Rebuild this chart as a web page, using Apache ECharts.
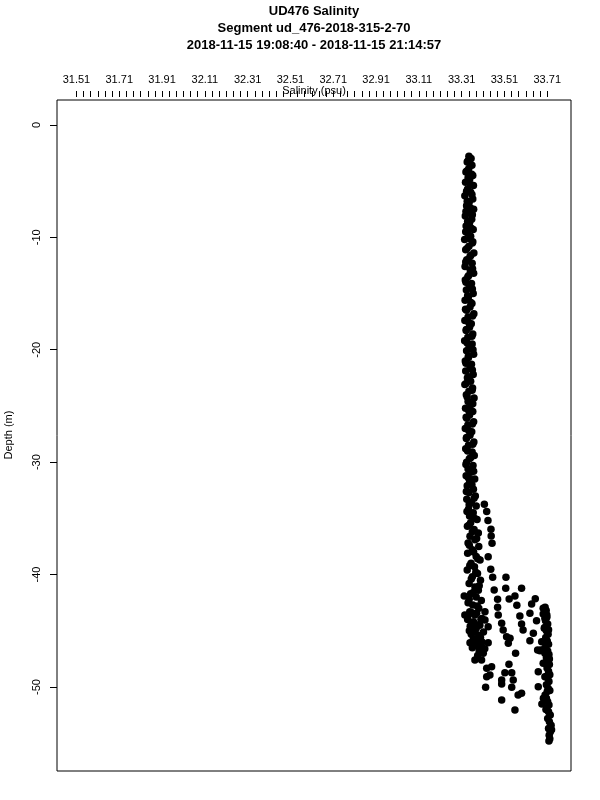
<!DOCTYPE html>
<html><head><meta charset="utf-8">
<script src="https://cdn.jsdelivr.net/npm/echarts@6/dist/echarts.min.js"></script>
<style>html,body{margin:0;padding:0;background:#fff}#c{width:600px;height:800px}</style>
</head><body><div id="c"></div><script>
const titleLines = ["UD476 Salinity", "Segment ud_476-2018-315-2-70", "2018-11-15 19:08:40 - 2018-11-15 21:14:57"];
const xAxisName = "Salinity (psu)";
const yAxisName = "Depth (m)";
const salinityTickLabels = [31.51, 31.71, 31.91, 32.11, 32.31, 32.51, 32.71, 32.91, 33.11, 33.31, 33.51, 33.71];
const depthTickLabels = [0, -10, -20, -30, -40, -50];

// main near-surface column, descending pass: [salinity, depth]
const upperColumn = [
[33.344,-2.8],[33.354,-3.0],[33.336,-3.3],[33.358,-3.6],[33.343,-3.9],[33.330,-4.2],[33.362,-4.5],[33.348,-4.8],
[33.328,-5.1],[33.365,-5.4],[33.338,-5.7],[33.352,-6.0],[33.325,-6.3],[33.362,-6.6],[33.345,-6.9],[33.333,-7.2],
[33.366,-7.5],[33.340,-7.8],[33.327,-8.1],[33.357,-8.4],[33.347,-8.7],[33.331,-9.0],[33.364,-9.3],[33.337,-9.6],
[33.352,-9.9],[33.324,-10.2],[33.360,-10.5],[33.344,-10.8],[33.329,-11.1],[33.367,-11.4],[33.349,-11.7],[33.334,-12.0],
[33.359,-12.3],[33.326,-12.6],[33.350,-12.9],[33.366,-13.2],[33.339,-13.5],[33.327,-13.8],[33.356,-14.1],[33.346,-14.4],
[33.332,-14.7],[33.364,-15.0],[33.342,-15.3],[33.326,-15.6],[33.358,-15.9],[33.349,-16.2],[33.333,-16.5],[33.367,-16.8],
[33.340,-17.1],[33.325,-17.4],[33.355,-17.7],[33.347,-18.0],[33.331,-18.3],[33.362,-18.6],[33.339,-18.9],[33.324,-19.2],
[33.359,-19.5],[33.345,-19.8],[33.333,-20.1],[33.366,-20.4],[33.342,-20.7],[33.327,-21.0],[33.356,-21.3],[33.349,-21.6],
[33.329,-21.9],[33.364,-22.2],[33.337,-22.5],[33.352,-22.8],[33.325,-23.1],[33.361,-23.4],[33.344,-23.7],[33.332,-24.0],
[33.368,-24.3],[33.340,-24.6],[33.353,-24.9],[33.328,-25.2],[33.362,-25.5],[33.347,-25.8],[33.334,-26.1],[33.366,-26.4],
[33.339,-26.7],[33.327,-27.0],[33.357,-27.3],[33.349,-27.6],[33.332,-27.9],[33.367,-28.2],[33.342,-28.5],[33.329,-28.8],
[33.359,-29.1],[33.369,-29.4],[33.346,-29.7],[33.333,-30.0],[33.363,-30.3],[33.340,-30.6],[33.353,-30.9],[33.331,-31.2],
[33.371,-31.5],[33.347,-31.8],[33.336,-32.1],[33.365,-32.4],[33.344,-32.7],[33.374,-33.0],[33.334,-33.3],[33.355,-33.6],
[33.378,-33.9],[33.342,-34.2],[33.364,-34.5],[33.347,-34.8],[33.382,-35.1],[33.352,-35.4],[33.337,-35.7],[33.368,-36.0],
[33.388,-36.3],[33.349,-36.6],[33.372,-36.9],[33.340,-37.2],[33.390,-37.5],[33.360,-37.8],[33.338,-38.1],[33.378,-38.4],
[33.396,-38.7],[33.354,-39.0],[33.370,-39.3],[33.336,-39.6],[33.384,-39.9],[33.360,-40.2],[33.398,-40.5],[33.345,-40.8],
[33.372,-41.1],[33.388,-41.4],[33.352,-41.7],[33.322,-41.9],[33.378,-42.0],[33.402,-42.3],[33.340,-42.5],[33.362,-42.7],
[33.390,-43.0],[33.348,-43.3],[33.325,-43.6],[33.372,-43.6],[33.405,-43.9],[33.338,-44.0],[33.365,-44.2],[33.395,-44.5],
[33.350,-44.6],[33.378,-44.8],[33.412,-45.1],[33.355,-45.3],[33.390,-45.4],[33.365,-45.7],[33.405,-46.0],[33.360,-46.5],
[33.382,-46.3],[33.418,-46.6],[33.397,-46.9],[33.385,-47.2]
];

// main column, ascending pass: [salinity, depth]
const upperColumnReturn = [
[33.340,-3.2],[33.350,-3.5],[33.334,-4.1],[33.357,-4.4],[33.340,-4.7],[33.352,-5.3],[33.333,-5.9],[33.358,-6.2],
[33.336,-6.8],[33.351,-7.4],[33.330,-7.7],[33.360,-8.0],[33.338,-8.6],[33.355,-9.2],[33.329,-9.5],[33.347,-10.1],
[33.362,-10.4],[33.335,-11.0],[33.353,-11.6],[33.329,-12.2],[33.361,-12.8],[33.343,-13.4],[33.330,-14.0],[33.360,-14.6],
[33.338,-15.2],[33.353,-15.8],[33.328,-16.4],[33.361,-17.0],[33.344,-17.6],[33.332,-18.2],[33.358,-18.8],[33.336,-19.4],
[33.363,-20.0],[33.341,-20.6],[33.330,-21.2],[33.360,-21.8],[33.343,-22.4],[33.331,-23.0],[33.359,-23.6],[33.336,-24.2],
[33.362,-24.8],[33.343,-25.4],[33.331,-26.0],[33.360,-26.6],[33.344,-27.2],[33.333,-27.8],[33.362,-28.4],[33.338,-29.0],
[33.352,-29.6],[33.330,-30.2],[33.366,-30.8],[33.342,-31.4],[33.358,-32.0],[33.332,-32.6],[33.368,-33.2],[33.345,-33.8],
[33.335,-34.4],[33.370,-35.0],[33.345,-35.6],[33.360,-36.2],[33.380,-36.8],[33.346,-37.4],[33.366,-38.0],[33.385,-38.6],
[33.348,-39.2],[33.376,-39.8],[33.355,-40.4],[33.392,-41.0],[33.364,-41.6],[33.345,-42.2],[33.383,-42.8],[33.358,-43.4],
[33.400,-44.0],[33.372,-44.4],[33.346,-45.0],[33.398,-45.6],[33.375,-46.2],[33.392,-46.8]
];

// scattered points between the two water masses: [salinity, depth]
const transitionPoints = [
[33.416,-33.75],[33.427,-34.40],[33.433,-35.20],[33.447,-35.97],[33.448,-36.57],[33.452,-37.22],[33.434,-38.41],
[33.446,-39.53],[33.455,-40.24],[33.517,-40.24],[33.516,-41.22],[33.590,-41.22],[33.462,-41.37],[33.559,-41.90],
[33.532,-42.17],[33.654,-42.14],[33.478,-42.20],[33.478,-42.91],[33.568,-42.73],[33.637,-42.62],[33.691,-43.00],
[33.629,-43.44],[33.582,-43.68],[33.481,-43.59],[33.691,-43.51],[33.380,-43.44],[33.419,-43.30],[33.341,-43.59],
[33.357,-44.33],[33.419,-44.04],[33.497,-44.33],[33.590,-44.40],[33.660,-44.10],[33.699,-43.89],[33.372,-45.08],
[33.434,-44.64],[33.504,-44.93],[33.597,-44.93],[33.645,-45.22],[33.696,-44.78],[33.520,-45.52],[33.536,-45.67],
[33.380,-45.82],[33.349,-46.06],[33.434,-46.06],[33.528,-46.11],[33.629,-45.88],[33.684,-45.97],[33.403,-46.41],
[33.676,-46.77],[33.411,-47.00],[33.562,-47.00],[33.699,-47.00],[33.372,-47.60],[33.403,-47.60],[33.691,-47.89],
[33.531,-47.98],[33.427,-48.34],[33.450,-48.19],[33.512,-48.73],[33.544,-48.73],[33.668,-48.64],[33.427,-49.08],
[33.442,-48.93],[33.497,-49.38],[33.551,-49.38],[33.497,-49.73],[33.699,-49.08],[33.422,-50.03],[33.544,-50.03],
[33.668,-49.97],[33.574,-50.71],[33.590,-50.56],[33.497,-51.16],[33.559,-52.05]
];

// deep saline column: [salinity, depth]
const deepColumn = [
[33.700,-42.9],[33.705,-43.2],[33.696,-43.5],[33.708,-43.8],[33.702,-44.1],[33.712,-44.4],[33.698,-44.7],[33.706,-45.0],
[33.714,-45.3],[33.703,-45.6],[33.710,-45.9],[33.716,-46.2],[33.700,-46.5],[33.680,-46.7],[33.665,-46.7],[33.692,-46.7],
[33.712,-46.8],[33.718,-47.1],[33.706,-47.4],[33.714,-47.7],[33.720,-48.0],[33.709,-48.3],[33.716,-48.6],[33.722,-48.9],
[33.712,-49.2],[33.718,-49.5],[33.706,-49.8],[33.714,-50.1],[33.710,-50.4],[33.700,-50.7],[33.692,-51.0],[33.706,-51.0],
[33.685,-51.5],[33.712,-51.3],[33.718,-51.6],[33.708,-51.9],[33.716,-52.2],[33.724,-52.5],[33.712,-52.8],[33.720,-53.1],
[33.728,-53.4],[33.716,-53.7],[33.724,-54.0],[33.719,-54.3],[33.722,-54.6],[33.718,-54.8],
[33.708,-43.6],[33.716,-44.9],[33.704,-46.0],[33.720,-47.5],[33.710,-49.0],[33.722,-50.3],[33.704,-52.0],[33.730,-53.8]
];

const FONT = "Liberation Sans";
const gridBox = {left: 57, right: 29, top: 100, bottom: 29};
const plotCenterX = 57 + (600 - 57 - 29) / 2;

// minor ticks: 6 subdivisions between labelled values
const salinityTicks = [];
for (let i = 0; i < salinityTickLabels.length - 1; i++) {
  for (let k = 0; k < 6; k++) {
    salinityTicks.push(+(salinityTickLabels[i] + (salinityTickLabels[i+1] - salinityTickLabels[i]) * k / 6).toFixed(4));
  }
}
salinityTicks.push(salinityTickLabels[salinityTickLabels.length - 1]);

const chart = echarts.init(document.getElementById('c'), null, {renderer: 'canvas'});
const dotStyle = {color: '#000', opacity: 1};
const dotSize = 7.5;
const mkSeries = d => ({type: 'scatter', data: d, symbol: 'circle', symbolSize: dotSize, itemStyle: dotStyle, silent: true});
chart.setOption({
  animation: false,
  backgroundColor: '#fff',
  grid: Object.assign({show: true, borderColor: '#000', borderWidth: 1, backgroundColor: 'transparent'}, gridBox),
  xAxis: {
    type: 'value', position: 'top', min: 31.419, max: 33.821, offset: 3,
    axisLine: {show: false, onZero: false},
    axisTick: {show: true, length: 6, customValues: salinityTicks, lineStyle: {color: '#000', width: 1}},
    axisLabel: {show: true, customValues: salinityTickLabels, formatter: v => v.toFixed(2), fontSize: 11, color: '#000', fontFamily: FONT, margin: 12},
    splitLine: {show: false}
  },
  yAxis: {
    type: 'value', min: -57.47, max: 2.21,
    axisLine: {show: false, onZero: false},
    axisTick: {show: true, length: 7, customValues: depthTickLabels, lineStyle: {color: '#000', width: 1}},
    axisLabel: {show: true, customValues: depthTickLabels, rotate: 90, fontSize: 11, color: '#000', fontFamily: FONT, margin: 15},
    splitLine: {show: false}
  },
  graphic: [
    {type: 'text', x: plotCenterX, y: 11, style: {text: titleLines[0], font: 'bold 13px "Liberation Sans"', fill: '#000', textAlign: 'center', textVerticalAlign: 'middle'}},
    {type: 'text', x: plotCenterX, y: 28, style: {text: titleLines[1], font: 'bold 13px "Liberation Sans"', fill: '#000', textAlign: 'center', textVerticalAlign: 'middle'}},
    {type: 'text', x: plotCenterX, y: 45, style: {text: titleLines[2], font: 'bold 13px "Liberation Sans"', fill: '#000', textAlign: 'center', textVerticalAlign: 'middle'}},
    {type: 'text', x: plotCenterX, y: 91, style: {text: xAxisName, font: '11px "Liberation Sans"', fill: '#000', textAlign: 'center', textVerticalAlign: 'middle'}},
    {type: 'text', x: 9, y: 435, rotation: Math.PI / 2, style: {text: yAxisName, font: '11px "Liberation Sans"', fill: '#000', textAlign: 'center', textVerticalAlign: 'middle'}}
  ],
  series: [mkSeries(upperColumn), mkSeries(upperColumnReturn), mkSeries(transitionPoints), mkSeries(deepColumn)]
});
</script></body></html>
